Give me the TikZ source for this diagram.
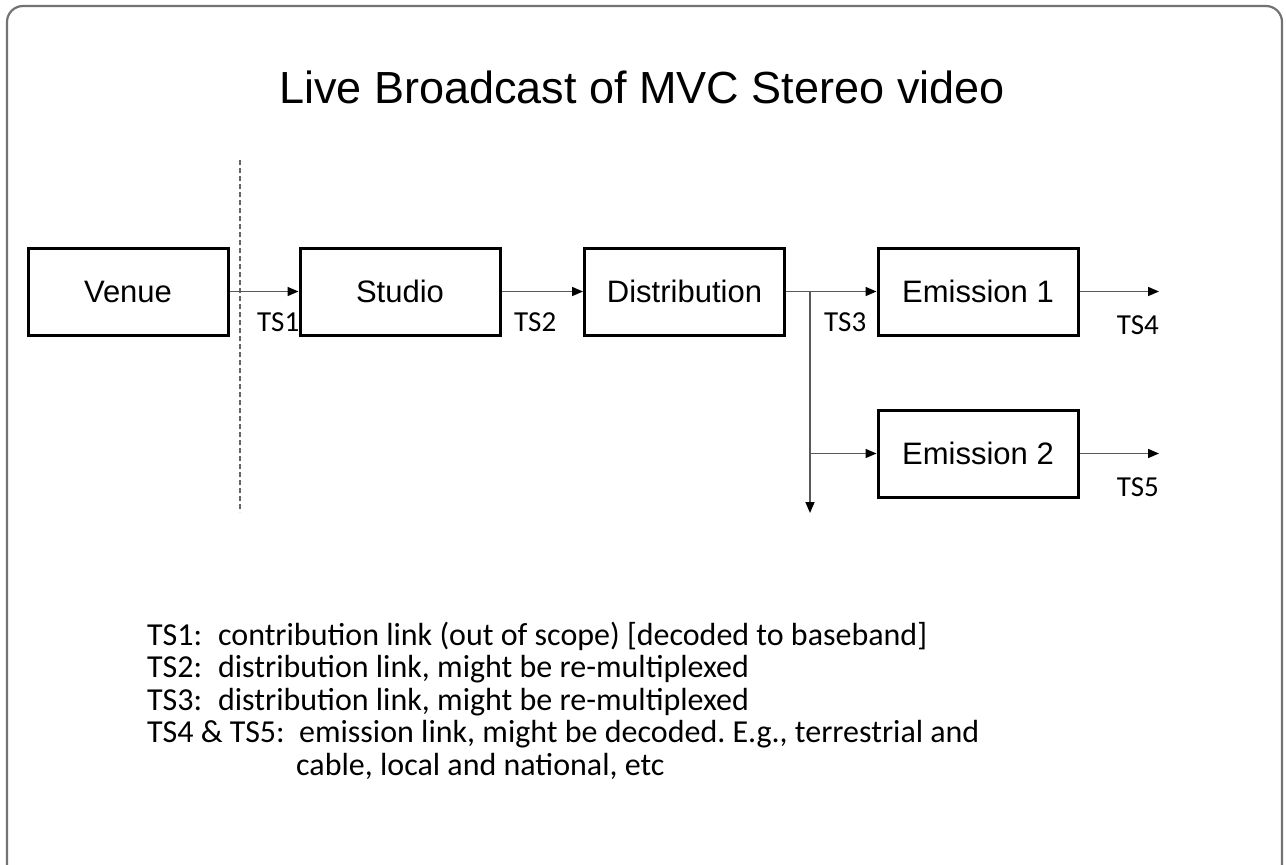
\documentclass[tikz,border=0pt]{standalone}
\usepackage{fontspec}
\setmainfont{Liberation Sans}
\newfontfamily\calib{Carlito}
\usetikzlibrary{arrows.meta}
\frenchspacing
\begin{document}
\begin{tikzpicture}[x=1pt,y=-1pt,
  blk/.style={draw=black,line width=3pt,minimum width=200pt,minimum height=87pt,inner sep=0pt,font=\fontsize{31}{36}\selectfont},
  lnk/.style={draw=black!65,line width=1.6pt,-{Triangle[length=11pt,width=9pt,color=black]}},
  tslab/.style={font=\calib\fontsize{29}{32}\selectfont,inner sep=0pt},
  note/.style={font=\calib\fontsize{32}{34}\selectfont,inner sep=0pt,anchor=base west}]
\useasboundingbox (0,0) rectangle (1286,865);
% frame
\draw[draw=black!55,line width=2.2pt,rounded corners=16pt] (7,870) -- (7,6) -- (1282,6) -- (1282,870);
% title
\node[font=\fontsize{45}{50}\selectfont,inner sep=0pt] (title) at (642,87) {Live Broadcast of MVC Stereo video};
% boxes
\node[blk] (venue) at (128,291.5) {Venue};
\node[blk] (studio) at (400,291.5) {Studio};
\node[blk] (dist) at (684.5,291.5) {Distribution};
\node[blk] (em1) at (978,291.5) {Emission 1};
\node[blk] (em2) at (978,453.5) {Emission 2};
% dashed boundary
\coordinate (dtop) at (240,160);
\coordinate (dbot) at (240,512);
\draw[draw=black!60,line width=1.3pt,dash pattern=on 5pt off 3pt] (dtop) -- (dbot);
% connectors
\draw[lnk] (venue.east) -- (studio.west);
\draw[lnk] (studio.east) -- (dist.west);
\coordinate (br) at (810,291.5);
\coordinate (br2) at (810,453.5);
\coordinate (down) at (810,513);
\draw[lnk] (dist.east) -- (em1.west);
\draw[lnk] (br) -- (down);
\draw[lnk] (br2) -- (em2.west);
\coordinate (o1) at (1159,291.5);
\coordinate (o2) at (1159,453.5);
\draw[lnk] (em1.east) -- (o1);
\draw[lnk] (em2.east) -- (o2);
% link labels
\node[tslab,anchor=base west] (ts1) at (257,331) {TS1};
\node[tslab,anchor=base west] (ts2) at (514,331) {TS2};
\node[tslab,anchor=base west] (ts3) at (824,331) {TS3};
\node[tslab,anchor=base east] (ts4) at (1159,334) {TS4};
\node[tslab,anchor=base east] (ts5) at (1159,496) {TS5};
% notes
\node[note] (n1) at (147,645) {TS1:\hspace{0.5em}contribution link (out of scope) [decoded to baseband]};
\node[note] (n2) at (147,677.5) {TS2:\hspace{0.5em}distribution link, might be re-multiplexed};
\node[note] (n3) at (147,710) {TS3:\hspace{0.5em}distribution link, might be re-multiplexed};
\node[note] (n4) at (147,742.5) {TS4 \& TS5:\hspace{0.45em}emission link, might be decoded. E.g., terrestrial and};
\node[note] (n5) at (296,775) {cable, local and national, etc};
\end{tikzpicture}
\end{document}
